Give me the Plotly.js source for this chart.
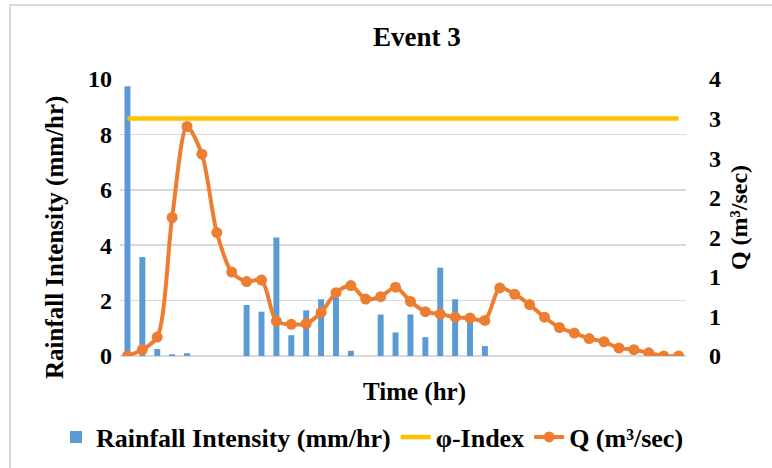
<!DOCTYPE html>
<html>
<head>
<meta charset="utf-8">
<script src="https://cdn.plot.ly/plotly-3.0.1.min.js"></script>
<style>
  html, body { margin: 0; padding: 0; background: #ffffff; }
  #wrap { position: relative; width: 772px; height: 468px; overflow: hidden; }
  #chart { position: absolute; left: 0; top: 0; width: 772px; height: 468px; }
  #frame { position: absolute; left: 9px; top: 4px; width: 900px; height: 600px;
           border-left: 2px solid #d9d9d9; border-top: 2px solid #d9d9d9; pointer-events: none; }
</style>
</head>
<body>
<div id="wrap">
  <div id="chart"></div>
  <div id="frame"></div>
</div>
<script>
// Time steps (categories, 38 intervals)
const timeSteps = [0,1,2,3,4,5,6,7,8,9,10,11,12,13,14,15,16,17,18,19,20,21,22,23,24,25,26,27,28,29,30,31,32,33,34,35,36,37];

// Rainfall intensity (mm/hr)
const rainfall = [9.74,3.57,0.25,0.06,0.1,null,null,null,1.84,1.6,4.28,0.75,1.65,2.05,2.1,0.19,null,1.5,0.85,1.5,0.68,3.19,2.05,1.42,0.36,
                  null,null,null,null,null,null,null,null,null,null,null,null,null];

// Discharge Q (m3/sec)
const discharge = [0.0,0.08,0.24,1.75,2.9,2.55,1.56,1.06,0.94,0.96,0.44,0.40,0.41,0.55,0.80,0.89,0.72,0.75,0.87,0.69,0.56,0.53,0.49,0.48,0.45,
                   0.86,0.78,0.65,0.49,0.36,0.29,0.22,0.18,0.10,0.08,0.04,0.0,0.0];

// phi-index (constant)
const phiIndex = timeSteps.map(() => 3.0);

// Right axis tick labels (as Excel shows them, rounded)
const rightTickVals = [0,0.5,1,1.5,2,2.5,3,3.5];
const rightTickText = ['0','1','1','2','2','3','3','4'];

const FONT = 'Liberation Serif, Times New Roman, serif';
const f = (s) => ({family: FONT, size: s, color: '#000000', weight: 'bold'});

const traces = [
  {
    type: 'bar', name: 'Rainfall Intensity (mm/hr)',
    x: timeSteps, y: rainfall, yaxis: 'y',
    width: 0.4, marker: {color: '#5B9BD5'}
  },
  {
    type: 'scatter', mode: 'lines', name: 'φ-Index',
    x: timeSteps, y: phiIndex, yaxis: 'y2',
    line: {color: '#FFC000', width: 4.5}
  },
  {
    type: 'scatter', mode: 'lines+markers', name: 'Q (m³/sec)',
    x: timeSteps, y: discharge, yaxis: 'y2',
    line: {color: '#ED7D31', width: 4, shape: 'spline', smoothing: 0.8},
    marker: {color: '#ED7D31', size: 11}
  }
];

// plot area: x 120..686, y 79..356 (px)
const W = 772, H = 468, L = 120, R = 86, T = 79, B = 112;
const pw = W - L - R, ph = H - T - B;
const px = (x) => (x - L) / pw;
const py = (y) => (H - B - y) / ph;

const layout = {
  width: W, height: H,
  paper_bgcolor: 'rgba(0,0,0,0)', plot_bgcolor: 'rgba(0,0,0,0)',
  font: f(22),
  margin: {l: L, r: R, t: T, b: B, autoexpand: false},
  title: {text: 'Event 3', font: f(27),
          x: 0.54, xref: 'container', xanchor: 'center', y: 0.921, yref: 'container', yanchor: 'middle'},
  showlegend: true,
  legend: {orientation: 'h', x: px(56), xref: 'paper', xanchor: 'left', y: py(437), yref: 'paper', yanchor: 'middle',
           font: f(26), itemwidth: 30, tracegroupgap: 0},
  annotations: [
    {text: 'Time (hr)', x: px(414), y: py(392), xref: 'paper', yref: 'paper', xanchor: 'center', yanchor: 'middle',
     showarrow: false, font: f(25)},
    {text: 'Rainfall Intensity (mm/hr)', x: px(55), y: py(238), xref: 'paper', yref: 'paper', xanchor: 'center', yanchor: 'middle',
     showarrow: false, textangle: -90, font: f(25)}
  ],
  xaxis: {
    range: [-0.5, 37.5], showticklabels: false, showgrid: false, zeroline: false,
    showline: false, ticks: '', fixedrange: true
  },
  yaxis: {
    range: [0, 10], dtick: 2, tick0: 0, showgrid: true, gridcolor: '#d9d9d9', gridwidth: 1.5,
    zeroline: true, zerolinecolor: '#d9d9d9', zerolinewidth: 1.5, showline: false, ticks: '',
    ticklabelstandoff: 7,
    tickfont: f(24)
  },
  yaxis2: {
    overlaying: 'y', side: 'right', range: [0, 3.5],
    tickmode: 'array', tickvals: rightTickVals, ticktext: rightTickText,
    showgrid: false, zeroline: false, showline: false, ticks: '',
    ticklabelstandoff: 22,
    tickfont: f(24),
    title: {text: 'Q (m³/sec)', font: f(24), standoff: 10}
  }
};

Plotly.newPlot('chart', traces, layout, {staticPlot: true, displayModeBar: false});
</script>
</body>
</html>
